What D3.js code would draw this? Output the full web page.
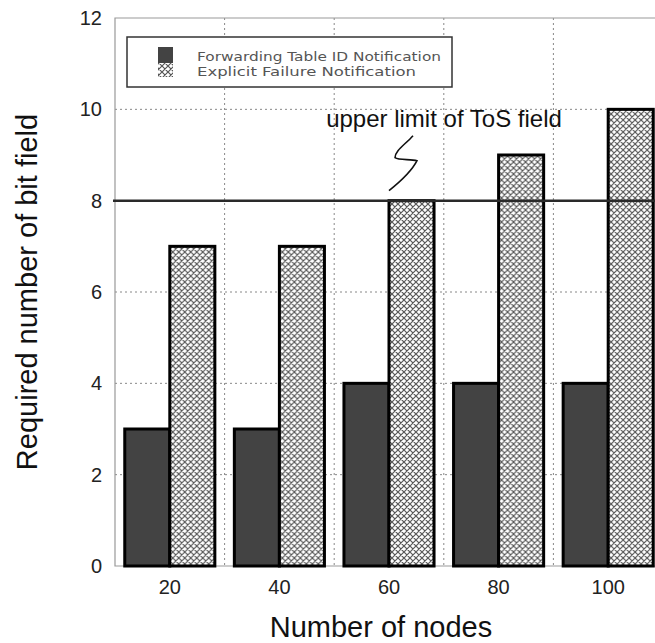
<!DOCTYPE html>
<html>
<head>
<meta charset="utf-8">
<script src="https://cdn.jsdelivr.net/npm/d3@7"></script>
<style>
  html, body { margin: 0; padding: 0; background: #fff; }
  svg { display: block; }
</style>
</head>
<body>
<svg id="chart" width="655" height="643"></svg>
<script>
// Node counts on the x axis
const nodeCounts = ["20", "40", "60", "80", "100"];
// Required bit-field width for each scheme
const seriesNames = ["Forwarding Table ID Notification", "Explicit Failure Notification"];
const forwardingTableBits = [3, 3, 4, 4, 4];
const explicitFailureBits = [7, 7, 8, 9, 10];
const yTicks = [0, 2, 4, 6, 8, 10, 12];
const tosLimit = 8;
const tosLabel = "upper limit of ToS field";
const xTitle = "Number of nodes";
const yTitle = "Required number of bit field";

const svg = d3.select("#chart");
const font = "'Liberation Sans', Arial, Helvetica, sans-serif";

const plot = { left: 115, top: 18, right: 663, bottom: 566 };

const x = d3.scaleBand()
  .domain(nodeCounts)
  .range([plot.left, plot.right])
  .paddingInner(0.178)
  .paddingOuter(0.089);

const xSub = d3.scaleBand()
  .domain(seriesNames)
  .range([0, x.bandwidth()]);

const y = d3.scaleLinear().domain([0, 12]).range([plot.bottom, plot.top]);

// Cross-hatch pattern for the explicit-failure bars
const defs = svg.append("defs");
const pat = defs.append("pattern")
  .attr("id", "xhatch")
  .attr("patternUnits", "userSpaceOnUse")
  .attr("width", 6).attr("height", 6);
pat.append("rect").attr("width", 6).attr("height", 6).attr("fill", "#fff");
pat.append("path")
  .attr("d", "M0,0 L6,6 M6,0 L0,6 M-1,5 L1,7 M5,-1 L7,1 M-1,1 L1,-1 M5,7 L7,5")
  .attr("stroke", "#555").attr("stroke-width", 1.2);

// Gridlines
const grid = svg.append("g");
grid.selectAll("line.h")
  .data(yTicks.filter(t => t > 0 && t < 12))
  .join("line")
  .attr("x1", plot.left).attr("x2", 655)
  .attr("y1", d => y(d)).attr("y2", d => y(d))
  .attr("stroke", "#888").attr("stroke-width", 1)
  .attr("stroke-dasharray", "2,3");
grid.selectAll("line.v")
  .data(nodeCounts.slice(1))
  .join("line")
  .attr("x1", d => x(d) - x.step() * x.paddingInner() / 2)
  .attr("x2", d => x(d) - x.step() * x.paddingInner() / 2)
  .attr("y1", plot.top).attr("y2", plot.bottom)
  .attr("stroke", "#888").attr("stroke-width", 1)
  .attr("stroke-dasharray", "2,3");

// Frame
svg.append("path")
  .attr("d", `M655,${plot.top} H${plot.left} V${plot.bottom} H655`)
  .attr("fill", "none").attr("stroke", "#999").attr("stroke-width", 1.2);

// Bars
const rows = nodeCounts.map((n, i) => ({ n, vals: [forwardingTableBits[i], explicitFailureBits[i]] }));
const groups = svg.append("g").selectAll("g")
  .data(rows)
  .join("g")
  .attr("transform", d => `translate(${x(d.n)},0)`);
groups.selectAll("rect")
  .data(d => d.vals.map((v, k) => ({ key: seriesNames[k], v, k })))
  .join("rect")
  .attr("x", d => xSub(d.key))
  .attr("width", xSub.bandwidth())
  .attr("y", d => y(d.v))
  .attr("height", d => y(0) - y(d.v))
  .attr("fill", d => d.k === 0 ? "#434343" : "url(#xhatch)")
  .attr("stroke", "#000")
  .attr("stroke-width", 3);

// ToS upper limit line
svg.append("line")
  .attr("x1", plot.left - 2).attr("x2", 655)
  .attr("y1", y(tosLimit)).attr("y2", y(tosLimit))
  .attr("stroke", "#2a2a2a").attr("stroke-width", 2.5);

// Squiggle marker pointing at the limit line, over the 60-node group
const sx = x("60") + x.bandwidth() / 2;
const sy = y(tosLimit);
svg.append("path")
  .attr("d", `M${sx + 24},${sy - 65} C${sx + 16},${sy - 56} ${sx + 6},${sy - 50} ${sx + 6},${sy - 43}
              C${sx + 10},${sy - 40} ${sx + 22},${sy - 42} ${sx + 28},${sy - 40}
              C${sx + 22},${sy - 28} ${sx + 10},${sy - 18} ${sx},${sy - 10}`)
  .attr("fill", "none").attr("stroke", "#111").attr("stroke-width", 1.6);

svg.append("text")
  .attr("x", sx + 55).attr("y", y(tosLimit) - 74)
  .attr("text-anchor", "middle")
  .attr("font-family", font).attr("font-size", 24)
  .attr("fill", "#111")
  .text(tosLabel);

// Axes
const yAxis = d3.axisLeft(y).tickValues(yTicks).tickSize(0).tickPadding(13);
svg.append("g")
  .attr("transform", `translate(${plot.left},0)`)
  .call(yAxis)
  .call(g => g.select(".domain").remove())
  .call(g => g.selectAll("text").attr("font-family", font).attr("font-size", 20).attr("fill", "#222"));

const xAxis = d3.axisBottom(x).tickSize(0).tickPadding(14);
svg.append("g")
  .attr("transform", `translate(0,${plot.bottom})`)
  .call(xAxis)
  .call(g => g.select(".domain").remove())
  .call(g => g.selectAll("text").attr("font-family", font).attr("font-size", 20).attr("fill", "#222"));

// Axis titles
svg.append("text")
  .attr("x", 381).attr("y", 637)
  .attr("text-anchor", "middle")
  .attr("font-family", font).attr("font-size", 29)
  .attr("fill", "#111")
  .text(xTitle);

svg.append("text")
  .attr("transform", "translate(37,292) rotate(-90)")
  .attr("text-anchor", "middle")
  .attr("font-family", font).attr("font-size", 29)
  .attr("fill", "#111")
  .text(yTitle);

// Legend
const legend = svg.append("g");
legend.append("rect")
  .attr("x", 127).attr("y", 37).attr("width", 325).attr("height", 50)
  .attr("fill", "#fff").attr("stroke", "#333").attr("stroke-width", 1.5);
const legendFills = ["#434343", "url(#xhatch)"];
const legendRows = seriesNames.map((name, i) => ({ name, fill: legendFills[i], i }));
legend.selectAll("rect.sw")
  .data(legendRows)
  .join("rect")
  .attr("class", "sw")
  .attr("x", 158).attr("width", 15)
  .attr("y", d => d.i === 0 ? 47 : 63)
  .attr("height", d => d.i === 0 ? 16 : 14)
  .attr("fill", d => d.fill);
legend.selectAll("text")
  .data(legendRows)
  .join("text")
  .attr("x", 197)
  .attr("y", d => 61 + d.i * 15)
  .attr("font-family", "'DejaVu Sans', sans-serif")
  .attr("font-size", 12.5)
  .attr("fill", "#555")
  .attr("textLength", d => d.i === 0 ? 244 : 219)
  .attr("lengthAdjust", "spacingAndGlyphs")
  .text(d => d.name);
</script>
</body>
</html>
